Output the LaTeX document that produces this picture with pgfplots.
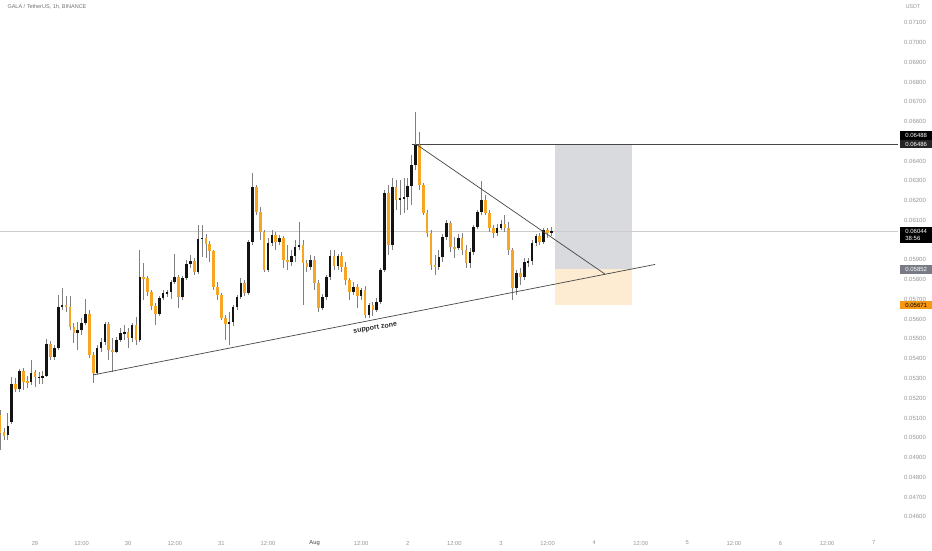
\documentclass[border=0pt]{standalone}
\usepackage{pgfplots}
\pgfplotsset{compat=1.18}
\usepackage{pgfplotstable}
\usepackage{fontspec}
\setmainfont{Liberation Sans}
\usetikzlibrary{backgrounds}

\definecolor{upc}{RGB}{19,19,19}
\definecolor{dnc}{RGB}{246,166,35}
\definecolor{wick}{RGB}{128,128,128}
\definecolor{lbl}{RGB}{150,150,150}
\definecolor{lastline}{RGB}{205,205,205}
\definecolor{trend}{RGB}{70,70,70}
\definecolor{tgtbox}{RGB}{217,218,221}
\definecolor{stopbox}{RGB}{253,235,210}
\definecolor{stoplbl}{RGB}{245,152,20}
\definecolor{entrylbl}{RGB}{120,123,134}

% GALA/USDT 1h candles, t = hours since 29 Jul 00:00
\pgfplotstableread{
t o hi lo c
-9 0.05115 0.05140 0.04938 0.05024
-8 0.05029 0.05049 0.04989 0.05009
-7 0.05014 0.05125 0.04989 0.05059
-6 0.05080 0.05307 0.05070 0.05272
-5 0.05272 0.05302 0.05231 0.05247
-4 0.05247 0.05348 0.05231 0.05338
-3 0.05338 0.05353 0.05242 0.05282
-2 0.05287 0.05312 0.05252 0.05277
-1 0.05282 0.05393 0.05267 0.05328
0 0.05333 0.05343 0.05257 0.05307
1 0.05307 0.05333 0.05272 0.05308
2 0.05307 0.05338 0.05272 0.05312
3 0.05312 0.05500 0.05307 0.05474
4 0.05474 0.05490 0.05393 0.05409
5 0.05409 0.05469 0.05393 0.05454
6 0.05454 0.05722 0.05444 0.05662
7 0.05662 0.05758 0.05646 0.05672
8 0.05672 0.05717 0.05636 0.05662
9 0.05662 0.05717 0.05545 0.05560
10 0.05560 0.05581 0.05479 0.05530
11 0.05530 0.05586 0.05444 0.05545
12 0.05545 0.05606 0.05520 0.05581
13 0.05581 0.05702 0.05571 0.05626
14 0.05626 0.05646 0.05404 0.05419
15 0.05419 0.05434 0.05277 0.05328
16 0.05328 0.05469 0.05318 0.05454
17 0.05454 0.05505 0.05434 0.05485
18 0.05485 0.05586 0.05469 0.05576
19 0.05576 0.05586 0.05393 0.05444
20 0.05444 0.05505 0.05333 0.05434
21 0.05434 0.05510 0.05429 0.05495
22 0.05495 0.05555 0.05485 0.05530
23 0.05530 0.05571 0.05495 0.05535
24 0.05535 0.05555 0.05454 0.05505
25 0.05505 0.05581 0.05485 0.05571
26 0.05571 0.05611 0.05469 0.05495
27 0.05495 0.05950 0.05485 0.05813
28 0.05813 0.05884 0.05697 0.05808
29 0.05808 0.05819 0.05717 0.05737
30 0.05737 0.05748 0.05646 0.05667
31 0.05667 0.05682 0.05571 0.05626
32 0.05626 0.05717 0.05616 0.05707
33 0.05707 0.05748 0.05697 0.05732
34 0.05732 0.05748 0.05712 0.05737
35 0.05737 0.05798 0.05702 0.05788
36 0.05788 0.05930 0.05778 0.05813
37 0.05813 0.05824 0.05657 0.05712
38 0.05712 0.05819 0.05697 0.05808
39 0.05808 0.05899 0.05798 0.05879
40 0.05879 0.05925 0.05859 0.05894
41 0.05894 0.05910 0.05824 0.05839
42 0.05839 0.06077 0.05829 0.06006
43 0.06006 0.06077 0.05915 0.06011
44 0.06011 0.06031 0.05910 0.05980
45 0.05980 0.05996 0.05889 0.05945
46 0.05945 0.05950 0.05748 0.05763
47 0.05763 0.05788 0.05697 0.05722
48 0.05722 0.05732 0.05596 0.05606
49 0.05606 0.05621 0.05495 0.05576
50 0.05576 0.05636 0.05469 0.05586
51 0.05586 0.05672 0.05565 0.05662
52 0.05662 0.05722 0.05646 0.05712
53 0.05712 0.05808 0.05702 0.05783
54 0.05783 0.05798 0.05717 0.05732
55 0.05732 0.06001 0.05722 0.05990
56 0.05990 0.06340 0.05975 0.06269
57 0.06269 0.06279 0.06127 0.06142
58 0.06142 0.06168 0.06001 0.06041
59 0.06041 0.06051 0.05839 0.05849
60 0.05849 0.06011 0.05839 0.05985
61 0.05985 0.06051 0.05970 0.06026
62 0.06026 0.06041 0.05950 0.05990
63 0.05990 0.06026 0.05975 0.06011
64 0.06011 0.06021 0.05859 0.05899
65 0.05899 0.05975 0.05849 0.05889
66 0.05889 0.05950 0.05869 0.05920
67 0.05920 0.06001 0.05889 0.05965
68 0.05965 0.06092 0.05950 0.05975
69 0.05975 0.06001 0.05672 0.05884
70 0.05884 0.05899 0.05839 0.05864
71 0.05864 0.05925 0.05849 0.05899
72 0.05899 0.05920 0.05748 0.05783
73 0.05783 0.05798 0.05636 0.05657
74 0.05657 0.05727 0.05646 0.05712
75 0.05712 0.05824 0.05697 0.05813
76 0.05813 0.05950 0.05798 0.05920
77 0.05920 0.05950 0.05849 0.05869
78 0.05869 0.05930 0.05849 0.05920
79 0.05920 0.05940 0.05839 0.05864
80 0.05864 0.05889 0.05773 0.05798
81 0.05798 0.05808 0.05697 0.05737
82 0.05737 0.05788 0.05722 0.05763
83 0.05763 0.05778 0.05657 0.05717
84 0.05717 0.05758 0.05697 0.05748
85 0.05748 0.05768 0.05606 0.05621
86 0.05621 0.05682 0.05606 0.05672
87 0.05672 0.05687 0.05616 0.05646
88 0.05646 0.05707 0.05636 0.05687
89 0.05687 0.05859 0.05677 0.05849
90 0.05849 0.06254 0.05839 0.06238
91 0.06238 0.06279 0.05925 0.05975
92 0.05975 0.06314 0.05950 0.06269
93 0.06269 0.06304 0.06152 0.06203
94 0.06203 0.06304 0.06127 0.06213
95 0.06213 0.06314 0.06137 0.06218
96 0.06218 0.06314 0.06152 0.06274
97 0.06274 0.06431 0.06178 0.06380
98 0.06380 0.06648 0.06355 0.06481
99 0.06481 0.06547 0.06254 0.06279
100 0.06279 0.06289 0.06127 0.06137
101 0.06137 0.06152 0.06016 0.06036
102 0.06036 0.06051 0.05849 0.05874
103 0.05874 0.05925 0.05824 0.05864
104 0.05864 0.05950 0.05849 0.05915
105 0.05915 0.06031 0.05889 0.06016
106 0.06016 0.06102 0.06001 0.06087
107 0.06087 0.06097 0.05940 0.05965
108 0.05965 0.06016 0.05910 0.05960
109 0.05960 0.06031 0.05950 0.06011
110 0.06011 0.06036 0.05925 0.05950
111 0.05950 0.05975 0.05859 0.05884
112 0.05884 0.05960 0.05859 0.05940
113 0.05940 0.06077 0.05925 0.06066
114 0.06066 0.06152 0.06056 0.06142
115 0.06142 0.06299 0.06127 0.06203
116 0.06203 0.06228 0.06127 0.06137
117 0.06137 0.06152 0.06041 0.06061
118 0.06061 0.06077 0.06011 0.06036
119 0.06036 0.06082 0.06021 0.06061
120 0.06061 0.06102 0.06051 0.06082
121 0.06082 0.06127 0.06041 0.06061
122 0.06061 0.06092 0.05925 0.05950
123 0.05950 0.05960 0.05697 0.05758
124 0.05758 0.05849 0.05722 0.05834
125 0.05834 0.05859 0.05773 0.05813
126 0.05813 0.05910 0.05798 0.05889
127 0.05889 0.05910 0.05864 0.05894
128 0.05894 0.06001 0.05874 0.05985
129 0.05985 0.06031 0.05970 0.06021
130 0.06021 0.06036 0.05975 0.05990
131 0.05990 0.06061 0.05980 0.06051
132 0.06051 0.06061 0.06011 0.06036
133 0.06036 0.06066 0.06021 0.06044
}\candles

\begin{document}
\begin{tikzpicture}
  \begin{axis}[
      scale only axis,
      width=898pt, height=536pt,
      xmin=-9.013, xmax=222.25,
      ymin=0.045028, ymax=0.07215,
      axis line style={draw=none},
      tick style={draw=none},
      scaled y ticks=false,
      xtick={0,12,...,216},
      xticklabels={29,12:00,30,12:00,31,12:00,\textcolor{black!75}{Aug},12:00,2,12:00,3,12:00,4,12:00,5,12:00,6,12:00,7},
      xticklabel style={anchor=center, yshift=-7pt, font=\fontsize{5.8}{7}\selectfont, text=lbl},
      ytick={0.046,0.047,0.048,0.049,0.050,0.051,0.052,0.053,0.054,0.055,0.056,0.057,0.058,0.059,0.061,0.062,0.063,0.064,0.066,0.067,0.068,0.069,0.070,0.071},
      yticklabel pos=right,
      yticklabel={\pgfmathprintnumber[assume math mode=true,fixed,fixed zerofill,precision=5]{\tick}},
      yticklabel style={anchor=center, xshift=17pt, font=\fontsize{6}{7}\selectfont, text=lbl},
      candle/.style={draw=none, mark=none, forget plot,
        error bars/.cd, y dir=both, y explicit, error mark=none},
    ]
    % long position tool: target and stop zones
    \addplot[fill=tgtbox, draw=none, forget plot] coordinates {
      (133.9,0.05852) (153.7,0.05852) (153.7,0.06486) (133.9,0.06486)} -- cycle;
    \addplot[fill=stopbox, draw=none, forget plot] coordinates {
      (133.9,0.05671) (153.7,0.05671) (153.7,0.05852) (133.9,0.05852)} -- cycle;

    % last price and target level
    \addplot[lastline, line width=1.2pt, forget plot] coordinates {(-9.013,0.06044) (222.25,0.06044)};
    \addplot[trend, line width=0.8pt, forget plot] coordinates {(97,0.06486) (222.25,0.06486)};

    % wicks
    \addplot[candle, error bar style={line width=0.7pt, draw=wick}]
      table[x=t, y=lo, y error plus expr={\thisrow{hi}-\thisrow{lo}}, y error minus expr={0}] {\candles};

    % bodies, falling
    \addplot[candle, error bar style={line width=2.6pt, draw=dnc},
      /pgfplots/restrict y to domain=0.04:0.08, /pgfplots/unbounded coords=discard]
      table[x=t, y expr={\thisrow{c}<\thisrow{o} ? (\thisrow{o}+\thisrow{c})/2 : 0},
            y error expr={max(abs(\thisrow{o}-\thisrow{c})/2,0.000006)}] {\candles};

    % bodies, rising
    \addplot[candle, error bar style={line width=2.6pt, draw=upc},
      /pgfplots/restrict y to domain=0.04:0.08, /pgfplots/unbounded coords=discard]
      table[x=t, y expr={\thisrow{c}<\thisrow{o} ? 0 : (\thisrow{o}+\thisrow{c})/2},
            y error expr={max(abs(\thisrow{o}-\thisrow{c})/2,0.000006)}] {\candles};

    % trendlines
    \addplot[trend, line width=0.7pt, forget plot] coordinates {(98.1,0.06486) (146.8,0.05828)};
    \addplot[trend, line width=0.7pt, forget plot] coordinates {(15.0,0.05318) (159.7,0.05877)};

    \node[rotate=9, font=\bfseries\fontsize{7}{8}\selectfont, text=black!85]
      at (axis cs:87.6,0.05555) {support zone};

    \coordinate (r6486) at (axis cs:222.25,0.06486);
    \coordinate (r6044) at (axis cs:222.25,0.06044);
    \coordinate (r5852) at (axis cs:222.25,0.05852);
    \coordinate (r5671) at (axis cs:222.25,0.05671);
  \end{axis}

  % price labels on the scale
  \begin{scope}[every node/.style={font=\fontsize{6}{7}\selectfont, inner sep=0pt,
      minimum width=32pt, minimum height=8.4pt, anchor=west}]
    \node[fill=black, text=white] at ([xshift=2pt,yshift=8.6pt]r6486) {0.06488};
    \node[fill=black!85, text=white] at ([xshift=2pt]r6486) {0.06486};
    \node[fill=black, text=white, anchor=north west, minimum height=16pt, align=left]
      at ([xshift=2pt,yshift=4.6pt]r6044) {0.06044\\38:56};
    \node[fill=entrylbl, text=white] at ([xshift=2pt]r5852) {0.05852};
    \node[fill=stoplbl, text=black] at ([xshift=2pt]r5671) {0.05671};
  \end{scope}

  \node[anchor=west, font=\fontsize{5.5}{6}\selectfont, text=black!55] at (4pt,529pt) {GALA / TetherUS, 1h, BINANCE};
  \node[font=\fontsize{5.5}{6}\selectfont, text=lbl] at (913pt,529pt) {USDT};

  \begin{scope}[on background layer]
    \fill[white] (0,-14pt) rectangle (932pt,536pt);
  \end{scope}
  \pgfresetboundingbox
  \useasboundingbox (0,-14pt) rectangle (932pt,536pt);
\end{tikzpicture}
\end{document}
